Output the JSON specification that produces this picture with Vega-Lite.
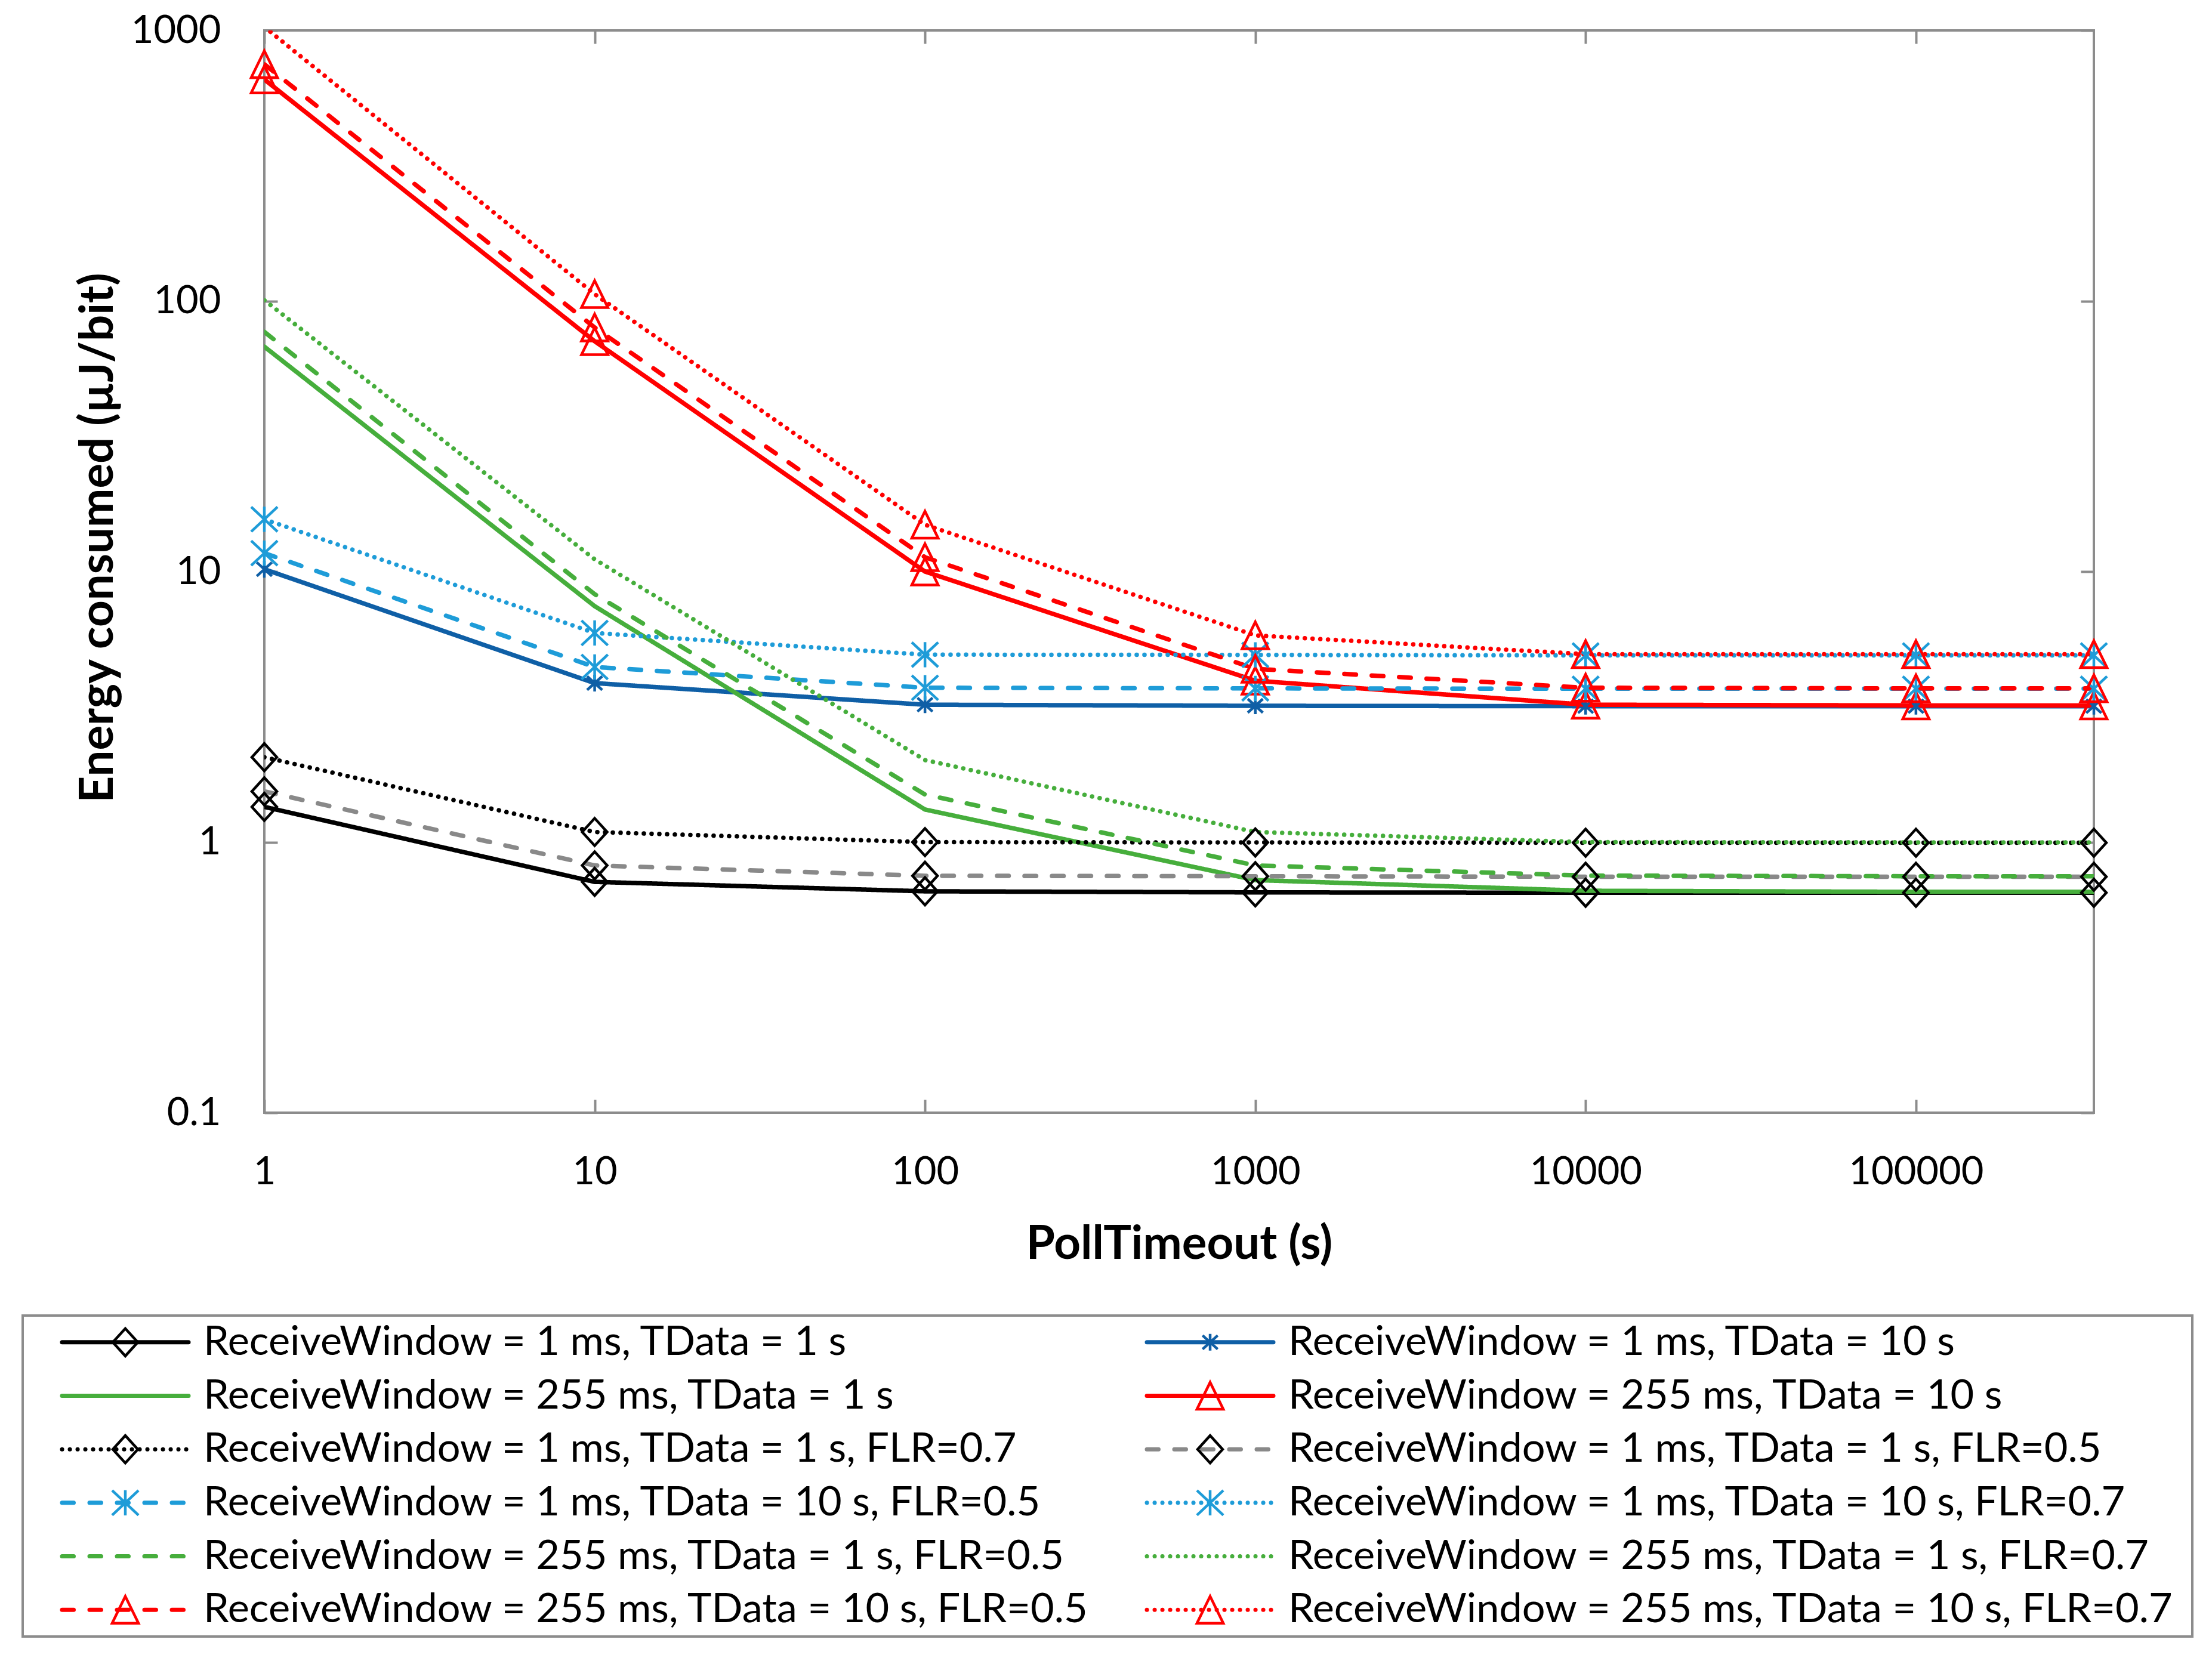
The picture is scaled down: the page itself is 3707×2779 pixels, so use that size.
{
  "$schema": "https://vega.github.io/schema/vega-lite/v6.json",
  "background": "white",
  "padding": {"left": 36, "top": 17, "right": 10, "bottom": 10},
  "config": {
    "font": "Lato",
    "view": {"stroke": "#8c8c8c", "strokeWidth": 4},
    "axis": {
      "grid": false,
      "domain": false,
      "tickColor": "#8c8c8c",
      "tickWidth": 4,
      "tickSize": -22,
      "labelColor": "#000000",
      "labelFont": "Lato",
      "labelFontSize": 65,
      "labelLimit": 0,
      "labelFlush": false,
      "labelOverlap": false,
      "labelBound": false,
      "titleColor": "#000000",
      "titleFont": "Lato",
      "titleFontSize": 78,
      "titleFontWeight": "bold"
    }
  },
  "datasets": {
    "energy": [
      {"series": "ReceiveWindow = 1 ms, TData = 1 s", "timeout": 1, "energy": 1.35},
      {"series": "ReceiveWindow = 1 ms, TData = 1 s", "timeout": 10, "energy": 0.713},
      {"series": "ReceiveWindow = 1 ms, TData = 1 s", "timeout": 100, "energy": 0.658},
      {"series": "ReceiveWindow = 1 ms, TData = 1 s", "timeout": 1000, "energy": 0.652},
      {"series": "ReceiveWindow = 1 ms, TData = 1 s", "timeout": 10000, "energy": 0.65},
      {"series": "ReceiveWindow = 1 ms, TData = 1 s", "timeout": 100000, "energy": 0.65},
      {"series": "ReceiveWindow = 1 ms, TData = 1 s", "timeout": 345600, "energy": 0.65},

      {"series": "ReceiveWindow = 1 ms, TData = 10 s", "timeout": 1, "energy": 10.2},
      {"series": "ReceiveWindow = 1 ms, TData = 10 s", "timeout": 10, "energy": 3.87},
      {"series": "ReceiveWindow = 1 ms, TData = 10 s", "timeout": 100, "energy": 3.22},
      {"series": "ReceiveWindow = 1 ms, TData = 10 s", "timeout": 1000, "energy": 3.19},
      {"series": "ReceiveWindow = 1 ms, TData = 10 s", "timeout": 10000, "energy": 3.18},
      {"series": "ReceiveWindow = 1 ms, TData = 10 s", "timeout": 100000, "energy": 3.18},
      {"series": "ReceiveWindow = 1 ms, TData = 10 s", "timeout": 345600, "energy": 3.18},

      {"series": "ReceiveWindow = 255 ms, TData = 1 s", "timeout": 1, "energy": 67.8},
      {"series": "ReceiveWindow = 255 ms, TData = 1 s", "timeout": 10, "energy": 7.45},
      {"series": "ReceiveWindow = 255 ms, TData = 1 s", "timeout": 100, "energy": 1.32},
      {"series": "ReceiveWindow = 255 ms, TData = 1 s", "timeout": 1000, "energy": 0.724},
      {"series": "ReceiveWindow = 255 ms, TData = 1 s", "timeout": 10000, "energy": 0.661},
      {"series": "ReceiveWindow = 255 ms, TData = 1 s", "timeout": 100000, "energy": 0.655},
      {"series": "ReceiveWindow = 255 ms, TData = 1 s", "timeout": 345600, "energy": 0.655},

      {"series": "ReceiveWindow = 255 ms, TData = 10 s", "timeout": 1, "energy": 659},
      {"series": "ReceiveWindow = 255 ms, TData = 10 s", "timeout": 10, "energy": 71},
      {"series": "ReceiveWindow = 255 ms, TData = 10 s", "timeout": 100, "energy": 10.0},
      {"series": "ReceiveWindow = 255 ms, TData = 10 s", "timeout": 1000, "energy": 3.95},
      {"series": "ReceiveWindow = 255 ms, TData = 10 s", "timeout": 10000, "energy": 3.22},
      {"series": "ReceiveWindow = 255 ms, TData = 10 s", "timeout": 100000, "energy": 3.2},
      {"series": "ReceiveWindow = 255 ms, TData = 10 s", "timeout": 345600, "energy": 3.2},

      {"series": "ReceiveWindow = 1 ms, TData = 1 s, FLR=0.7", "timeout": 1, "energy": 2.06},
      {"series": "ReceiveWindow = 1 ms, TData = 1 s, FLR=0.7", "timeout": 10, "energy": 1.09},
      {"series": "ReceiveWindow = 1 ms, TData = 1 s, FLR=0.7", "timeout": 100, "energy": 1.0},
      {"series": "ReceiveWindow = 1 ms, TData = 1 s, FLR=0.7", "timeout": 1000, "energy": 0.997},
      {"series": "ReceiveWindow = 1 ms, TData = 1 s, FLR=0.7", "timeout": 10000, "energy": 0.995},
      {"series": "ReceiveWindow = 1 ms, TData = 1 s, FLR=0.7", "timeout": 100000, "energy": 0.995},
      {"series": "ReceiveWindow = 1 ms, TData = 1 s, FLR=0.7", "timeout": 345600, "energy": 0.995},

      {"series": "ReceiveWindow = 1 ms, TData = 1 s, FLR=0.5", "timeout": 1, "energy": 1.54},
      {"series": "ReceiveWindow = 1 ms, TData = 1 s, FLR=0.5", "timeout": 10, "energy": 0.82},
      {"series": "ReceiveWindow = 1 ms, TData = 1 s, FLR=0.5", "timeout": 100, "energy": 0.751},
      {"series": "ReceiveWindow = 1 ms, TData = 1 s, FLR=0.5", "timeout": 1000, "energy": 0.748},
      {"series": "ReceiveWindow = 1 ms, TData = 1 s, FLR=0.5", "timeout": 10000, "energy": 0.745},
      {"series": "ReceiveWindow = 1 ms, TData = 1 s, FLR=0.5", "timeout": 100000, "energy": 0.745},
      {"series": "ReceiveWindow = 1 ms, TData = 1 s, FLR=0.5", "timeout": 345600, "energy": 0.745},

      {"series": "ReceiveWindow = 1 ms, TData = 10 s, FLR=0.5", "timeout": 1, "energy": 11.7},
      {"series": "ReceiveWindow = 1 ms, TData = 10 s, FLR=0.5", "timeout": 10, "energy": 4.44},
      {"series": "ReceiveWindow = 1 ms, TData = 10 s, FLR=0.5", "timeout": 100, "energy": 3.72},
      {"series": "ReceiveWindow = 1 ms, TData = 10 s, FLR=0.5", "timeout": 1000, "energy": 3.7},
      {"series": "ReceiveWindow = 1 ms, TData = 10 s, FLR=0.5", "timeout": 10000, "energy": 3.69},
      {"series": "ReceiveWindow = 1 ms, TData = 10 s, FLR=0.5", "timeout": 100000, "energy": 3.69},
      {"series": "ReceiveWindow = 1 ms, TData = 10 s, FLR=0.5", "timeout": 345600, "energy": 3.69},

      {"series": "ReceiveWindow = 1 ms, TData = 10 s, FLR=0.7", "timeout": 1, "energy": 15.6},
      {"series": "ReceiveWindow = 1 ms, TData = 10 s, FLR=0.7", "timeout": 10, "energy": 5.93},
      {"series": "ReceiveWindow = 1 ms, TData = 10 s, FLR=0.7", "timeout": 100, "energy": 4.93},
      {"series": "ReceiveWindow = 1 ms, TData = 10 s, FLR=0.7", "timeout": 1000, "energy": 4.92},
      {"series": "ReceiveWindow = 1 ms, TData = 10 s, FLR=0.7", "timeout": 10000, "energy": 4.9},
      {"series": "ReceiveWindow = 1 ms, TData = 10 s, FLR=0.7", "timeout": 100000, "energy": 4.9},
      {"series": "ReceiveWindow = 1 ms, TData = 10 s, FLR=0.7", "timeout": 345600, "energy": 4.9},

      {"series": "ReceiveWindow = 255 ms, TData = 1 s, FLR=0.5", "timeout": 1, "energy": 76.9},
      {"series": "ReceiveWindow = 255 ms, TData = 1 s, FLR=0.5", "timeout": 10, "energy": 8.25},
      {"series": "ReceiveWindow = 255 ms, TData = 1 s, FLR=0.5", "timeout": 100, "energy": 1.5},
      {"series": "ReceiveWindow = 255 ms, TData = 1 s, FLR=0.5", "timeout": 1000, "energy": 0.82},
      {"series": "ReceiveWindow = 255 ms, TData = 1 s, FLR=0.5", "timeout": 10000, "energy": 0.752},
      {"series": "ReceiveWindow = 255 ms, TData = 1 s, FLR=0.5", "timeout": 100000, "energy": 0.748},
      {"series": "ReceiveWindow = 255 ms, TData = 1 s, FLR=0.5", "timeout": 345600, "energy": 0.748},

      {"series": "ReceiveWindow = 255 ms, TData = 1 s, FLR=0.7", "timeout": 1, "energy": 100.7},
      {"series": "ReceiveWindow = 255 ms, TData = 1 s, FLR=0.7", "timeout": 10, "energy": 11.1},
      {"series": "ReceiveWindow = 255 ms, TData = 1 s, FLR=0.7", "timeout": 100, "energy": 2.01},
      {"series": "ReceiveWindow = 255 ms, TData = 1 s, FLR=0.7", "timeout": 1000, "energy": 1.09},
      {"series": "ReceiveWindow = 255 ms, TData = 1 s, FLR=0.7", "timeout": 10000, "energy": 1.0},
      {"series": "ReceiveWindow = 255 ms, TData = 1 s, FLR=0.7", "timeout": 100000, "energy": 0.998},
      {"series": "ReceiveWindow = 255 ms, TData = 1 s, FLR=0.7", "timeout": 345600, "energy": 0.998},

      {"series": "ReceiveWindow = 255 ms, TData = 10 s, FLR=0.5", "timeout": 1, "energy": 750},
      {"series": "ReceiveWindow = 255 ms, TData = 10 s, FLR=0.5", "timeout": 10, "energy": 79.8},
      {"series": "ReceiveWindow = 255 ms, TData = 10 s, FLR=0.5", "timeout": 100, "energy": 11.3},
      {"series": "ReceiveWindow = 255 ms, TData = 10 s, FLR=0.5", "timeout": 1000, "energy": 4.37},
      {"series": "ReceiveWindow = 255 ms, TData = 10 s, FLR=0.5", "timeout": 10000, "energy": 3.72},
      {"series": "ReceiveWindow = 255 ms, TData = 10 s, FLR=0.5", "timeout": 100000, "energy": 3.7},
      {"series": "ReceiveWindow = 255 ms, TData = 10 s, FLR=0.5", "timeout": 345600, "energy": 3.7},

      {"series": "ReceiveWindow = 255 ms, TData = 10 s, FLR=0.7", "timeout": 1, "energy": 1030},
      {"series": "ReceiveWindow = 255 ms, TData = 10 s, FLR=0.7", "timeout": 10, "energy": 106},
      {"series": "ReceiveWindow = 255 ms, TData = 10 s, FLR=0.7", "timeout": 100, "energy": 14.9},
      {"series": "ReceiveWindow = 255 ms, TData = 10 s, FLR=0.7", "timeout": 1000, "energy": 5.81},
      {"series": "ReceiveWindow = 255 ms, TData = 10 s, FLR=0.7", "timeout": 10000, "energy": 4.95},
      {"series": "ReceiveWindow = 255 ms, TData = 10 s, FLR=0.7", "timeout": 100000, "energy": 4.95},
      {"series": "ReceiveWindow = 255 ms, TData = 10 s, FLR=0.7", "timeout": 345600, "energy": 4.95}
    ],
    "keys": [
      {"series": "ReceiveWindow = 1 ms, TData = 1 s", "col": 0, "row": 0},
      {"series": "ReceiveWindow = 255 ms, TData = 1 s", "col": 0, "row": 1},
      {"series": "ReceiveWindow = 1 ms, TData = 1 s, FLR=0.7", "col": 0, "row": 2},
      {"series": "ReceiveWindow = 1 ms, TData = 10 s, FLR=0.5", "col": 0, "row": 3},
      {"series": "ReceiveWindow = 255 ms, TData = 1 s, FLR=0.5", "col": 0, "row": 4},
      {"series": "ReceiveWindow = 255 ms, TData = 10 s, FLR=0.5", "col": 0, "row": 5},
      {"series": "ReceiveWindow = 1 ms, TData = 10 s", "col": 1, "row": 0},
      {"series": "ReceiveWindow = 255 ms, TData = 10 s", "col": 1, "row": 1},
      {"series": "ReceiveWindow = 1 ms, TData = 1 s, FLR=0.5", "col": 1, "row": 2},
      {"series": "ReceiveWindow = 1 ms, TData = 10 s, FLR=0.7", "col": 1, "row": 3},
      {"series": "ReceiveWindow = 255 ms, TData = 1 s, FLR=0.7", "col": 1, "row": 4},
      {"series": "ReceiveWindow = 255 ms, TData = 10 s, FLR=0.7", "col": 1, "row": 5}
    ]
  },
  "spacing": 76,
  "vconcat": [
    {
      "width": 3066,
      "height": 1814,
      "data": {"name": "energy"},
      "layer": [
        {
          "mark": {"type": "line", "strokeWidth": 7.5, "strokeCap": "round", "strokeJoin": "round", "clip": true},
          "encoding": {
            "x": {
              "field": "timeout",
              "type": "quantitative",
              "scale": {"type": "log", "domain": [1, 345600]},
              "axis": {
                "orient": "bottom",
                "values": [1, 10, 100, 1000, 10000, 100000],
                "format": "d",
                "labelPadding": 90,
                "title": "PollTimeout (s)",
                "titleY": 182,
                "titleBaseline": "top"
              }
            },
            "y": {
              "field": "energy",
              "type": "quantitative",
              "scale": {"type": "log", "domain": [0.1, 1000]},
              "axis": {
                "orient": "left",
                "values": [0.1, 1, 10, 100, 1000],
                "format": "~g",
                "labelPadding": 95,
                "title": "Energy consumed (µJ/bit)",
                "titleX": -239,
                "titleY": 850
              }
            },
            "color": {
              "field": "series",
              "type": "nominal",
              "legend": null,
              "scale": {
                "domain": [
                  "ReceiveWindow = 1 ms, TData = 1 s",
                  "ReceiveWindow = 1 ms, TData = 10 s",
                  "ReceiveWindow = 255 ms, TData = 1 s",
                  "ReceiveWindow = 255 ms, TData = 10 s",
                  "ReceiveWindow = 1 ms, TData = 1 s, FLR=0.7",
                  "ReceiveWindow = 1 ms, TData = 1 s, FLR=0.5",
                  "ReceiveWindow = 1 ms, TData = 10 s, FLR=0.5",
                  "ReceiveWindow = 1 ms, TData = 10 s, FLR=0.7",
                  "ReceiveWindow = 255 ms, TData = 1 s, FLR=0.5",
                  "ReceiveWindow = 255 ms, TData = 1 s, FLR=0.7",
                  "ReceiveWindow = 255 ms, TData = 10 s, FLR=0.5",
                  "ReceiveWindow = 255 ms, TData = 10 s, FLR=0.7"
                ],
                "range": ["#000000", "#0f5fa6", "#46ae3c", "#ff0000", "#000000", "#898989", "#1e9cd8", "#1e9cd8", "#46ae3c", "#46ae3c", "#ff0000", "#ff0000"]
              }
            },
            "strokeDash": {
              "field": "series",
              "type": "nominal",
              "legend": null,
              "scale": {
                "domain": [
                  "ReceiveWindow = 1 ms, TData = 1 s",
                  "ReceiveWindow = 1 ms, TData = 10 s",
                  "ReceiveWindow = 255 ms, TData = 1 s",
                  "ReceiveWindow = 255 ms, TData = 10 s",
                  "ReceiveWindow = 1 ms, TData = 1 s, FLR=0.7",
                  "ReceiveWindow = 1 ms, TData = 1 s, FLR=0.5",
                  "ReceiveWindow = 1 ms, TData = 10 s, FLR=0.5",
                  "ReceiveWindow = 1 ms, TData = 10 s, FLR=0.7",
                  "ReceiveWindow = 255 ms, TData = 1 s, FLR=0.5",
                  "ReceiveWindow = 255 ms, TData = 1 s, FLR=0.7",
                  "ReceiveWindow = 255 ms, TData = 10 s, FLR=0.5",
                  "ReceiveWindow = 255 ms, TData = 10 s, FLR=0.7"
                ],
                "range": [[1, 0], [1, 0], [1, 0], [1, 0], [0.1, 12.9], [19.5, 26.5], [19.5, 26.5], [0.1, 12.9], [19.5, 26.5], [0.1, 12.9], [19.5, 26.5], [0.1, 12.9]]
              }
            }
          }
        },
        {
          "transform": [
            {"filter": {"field": "series", "oneOf": [
              "ReceiveWindow = 1 ms, TData = 1 s",
              "ReceiveWindow = 1 ms, TData = 10 s",
              "ReceiveWindow = 255 ms, TData = 10 s",
              "ReceiveWindow = 1 ms, TData = 1 s, FLR=0.7",
              "ReceiveWindow = 1 ms, TData = 1 s, FLR=0.5",
              "ReceiveWindow = 1 ms, TData = 10 s, FLR=0.5",
              "ReceiveWindow = 1 ms, TData = 10 s, FLR=0.7",
              "ReceiveWindow = 255 ms, TData = 10 s, FLR=0.5",
              "ReceiveWindow = 255 ms, TData = 10 s, FLR=0.7"
            ]}},
            {"filter": "datum.energy <= 1000"}
          ],
          "mark": {"type": "point", "filled": false, "opacity": 1, "strokeWidth": 4.5, "size": 2116},
          "encoding": {
            "x": {
              "field": "timeout",
              "type": "quantitative",
              "scale": {"type": "log", "domain": [1, 345600]},
              "axis": {"orient": "top", "values": [1, 10, 100, 1000, 10000, 100000], "labels": false, "title": null}
            },
            "y": {
              "field": "energy",
              "type": "quantitative",
              "scale": {"type": "log", "domain": [0.1, 1000]},
              "axis": {"orient": "right", "values": [0.1, 1, 10, 100, 1000], "labels": false, "title": null}
            },
            "stroke": {
              "field": "series",
              "type": "nominal",
              "legend": null,
              "scale": {
                "domain": [
                  "ReceiveWindow = 1 ms, TData = 1 s",
                  "ReceiveWindow = 1 ms, TData = 10 s",
                  "ReceiveWindow = 255 ms, TData = 10 s",
                  "ReceiveWindow = 1 ms, TData = 1 s, FLR=0.7",
                  "ReceiveWindow = 1 ms, TData = 1 s, FLR=0.5",
                  "ReceiveWindow = 1 ms, TData = 10 s, FLR=0.5",
                  "ReceiveWindow = 1 ms, TData = 10 s, FLR=0.7",
                  "ReceiveWindow = 255 ms, TData = 10 s, FLR=0.5",
                  "ReceiveWindow = 255 ms, TData = 10 s, FLR=0.7"
                ],
                "range": ["#000000", "#0f5fa6", "#ff0000", "#000000", "#000000", "#1e9cd8", "#1e9cd8", "#ff0000", "#ff0000"]
              }
            },
            "shape": {
              "field": "series",
              "type": "nominal",
              "legend": null,
              "scale": {
                "domain": [
                  "ReceiveWindow = 1 ms, TData = 1 s",
                  "ReceiveWindow = 1 ms, TData = 10 s",
                  "ReceiveWindow = 255 ms, TData = 10 s",
                  "ReceiveWindow = 1 ms, TData = 1 s, FLR=0.7",
                  "ReceiveWindow = 1 ms, TData = 1 s, FLR=0.5",
                  "ReceiveWindow = 1 ms, TData = 10 s, FLR=0.5",
                  "ReceiveWindow = 1 ms, TData = 10 s, FLR=0.7",
                  "ReceiveWindow = 255 ms, TData = 10 s, FLR=0.5",
                  "ReceiveWindow = 255 ms, TData = 10 s, FLR=0.7"
                ],
                "range": [
                  "M-0.91,0L0,-1L0.91,0L0,1Z",
                  "M-0.55,-0.5L0.55,0.5M-0.55,0.5L0.55,-0.5M0,-0.61L0,0.61",
                  "M0,-0.98L0.96,0.98L-0.96,0.98Z",
                  "M-0.91,0L0,-1L0.91,0L0,1Z",
                  "M-0.91,0L0,-1L0.91,0L0,1Z",
                  "M-0.96,-0.9L0.96,0.9M-0.96,0.9L0.96,-0.9M0,-0.92L0,0.92",
                  "M-0.96,-0.9L0.96,0.9M-0.96,0.9L0.96,-0.9M0,-0.92L0,0.92",
                  "M0,-0.98L0.96,0.98L-0.96,0.98Z",
                  "M0,-0.98L0.96,0.98L-0.96,0.98Z"
                ]
              }
            }
          }
        }
      ],
      "resolve": {"axis": {"x": "independent", "y": "independent"}}
    },
    {
      "width": 3231,
      "height": 538,
      "view": {"stroke": null},
      "layer": [
        {
          "data": {"values": [{}]},
          "mark": {"type": "rect", "fill": "transparent", "stroke": "#8c8c8c", "strokeWidth": 4},
          "encoding": {
            "x": {"datum": 0, "type": "quantitative", "scale": {"domain": [0, 2], "range": [-405, 3231], "nice": false, "zero": false}, "axis": null},
            "x2": {"datum": 2}
          }
        },
        {
          "data": {"name": "keys"},
          "mark": {"type": "rule", "strokeWidth": 7, "strokeCap": "round", "xOffset": 66, "x2Offset": 278},
          "encoding": {
            "x": {"field": "col", "type": "quantitative", "axis": null},
            "x2": {"field": "col"},
            "y": {"field": "row", "type": "ordinal", "scale": {"type": "point", "padding": 0.5}, "axis": null},
            "color": {
              "field": "series",
              "type": "nominal",
              "legend": null,
              "scale": {
                "domain": [
                  "ReceiveWindow = 1 ms, TData = 1 s",
                  "ReceiveWindow = 1 ms, TData = 10 s",
                  "ReceiveWindow = 255 ms, TData = 1 s",
                  "ReceiveWindow = 255 ms, TData = 10 s",
                  "ReceiveWindow = 1 ms, TData = 1 s, FLR=0.7",
                  "ReceiveWindow = 1 ms, TData = 1 s, FLR=0.5",
                  "ReceiveWindow = 1 ms, TData = 10 s, FLR=0.5",
                  "ReceiveWindow = 1 ms, TData = 10 s, FLR=0.7",
                  "ReceiveWindow = 255 ms, TData = 1 s, FLR=0.5",
                  "ReceiveWindow = 255 ms, TData = 1 s, FLR=0.7",
                  "ReceiveWindow = 255 ms, TData = 10 s, FLR=0.5",
                  "ReceiveWindow = 255 ms, TData = 10 s, FLR=0.7"
                ],
                "range": ["#000000", "#0f5fa6", "#46ae3c", "#ff0000", "#000000", "#898989", "#1e9cd8", "#1e9cd8", "#46ae3c", "#46ae3c", "#ff0000", "#ff0000"]
              }
            },
            "strokeDash": {
              "field": "series",
              "type": "nominal",
              "legend": null,
              "scale": {
                "domain": [
                  "ReceiveWindow = 1 ms, TData = 1 s",
                  "ReceiveWindow = 1 ms, TData = 10 s",
                  "ReceiveWindow = 255 ms, TData = 1 s",
                  "ReceiveWindow = 255 ms, TData = 10 s",
                  "ReceiveWindow = 1 ms, TData = 1 s, FLR=0.7",
                  "ReceiveWindow = 1 ms, TData = 1 s, FLR=0.5",
                  "ReceiveWindow = 1 ms, TData = 10 s, FLR=0.5",
                  "ReceiveWindow = 1 ms, TData = 10 s, FLR=0.7",
                  "ReceiveWindow = 255 ms, TData = 1 s, FLR=0.5",
                  "ReceiveWindow = 255 ms, TData = 1 s, FLR=0.7",
                  "ReceiveWindow = 255 ms, TData = 10 s, FLR=0.5",
                  "ReceiveWindow = 255 ms, TData = 10 s, FLR=0.7"
                ],
                "range": [[1, 0], [1, 0], [1, 0], [1, 0], [0.1, 12.9], [19.5, 26.5], [19.5, 26.5], [0.1, 12.9], [19.5, 26.5], [0.1, 12.9], [19.5, 26.5], [0.1, 12.9]]
              }
            }
          }
        },
        {
          "data": {"name": "keys"},
          "transform": [
            {"filter": {"field": "series", "oneOf": [
              "ReceiveWindow = 1 ms, TData = 1 s",
              "ReceiveWindow = 1 ms, TData = 10 s",
              "ReceiveWindow = 255 ms, TData = 10 s",
              "ReceiveWindow = 1 ms, TData = 1 s, FLR=0.7",
              "ReceiveWindow = 1 ms, TData = 1 s, FLR=0.5",
              "ReceiveWindow = 1 ms, TData = 10 s, FLR=0.5",
              "ReceiveWindow = 1 ms, TData = 10 s, FLR=0.7",
              "ReceiveWindow = 255 ms, TData = 10 s, FLR=0.5",
              "ReceiveWindow = 255 ms, TData = 10 s, FLR=0.7"
            ]}}
          ],
          "mark": {"type": "point", "filled": false, "opacity": 1, "strokeWidth": 4.5, "size": 2116, "xOffset": 172},
          "encoding": {
            "x": {"field": "col", "type": "quantitative", "axis": null},
            "y": {"field": "row", "type": "ordinal", "axis": null},
            "stroke": {
              "field": "series",
              "type": "nominal",
              "legend": null,
              "scale": {
                "domain": [
                  "ReceiveWindow = 1 ms, TData = 1 s",
                  "ReceiveWindow = 1 ms, TData = 10 s",
                  "ReceiveWindow = 255 ms, TData = 10 s",
                  "ReceiveWindow = 1 ms, TData = 1 s, FLR=0.7",
                  "ReceiveWindow = 1 ms, TData = 1 s, FLR=0.5",
                  "ReceiveWindow = 1 ms, TData = 10 s, FLR=0.5",
                  "ReceiveWindow = 1 ms, TData = 10 s, FLR=0.7",
                  "ReceiveWindow = 255 ms, TData = 10 s, FLR=0.5",
                  "ReceiveWindow = 255 ms, TData = 10 s, FLR=0.7"
                ],
                "range": ["#000000", "#0f5fa6", "#ff0000", "#000000", "#000000", "#1e9cd8", "#1e9cd8", "#ff0000", "#ff0000"]
              }
            },
            "shape": {
              "field": "series",
              "type": "nominal",
              "legend": null,
              "scale": {
                "domain": [
                  "ReceiveWindow = 1 ms, TData = 1 s",
                  "ReceiveWindow = 1 ms, TData = 10 s",
                  "ReceiveWindow = 255 ms, TData = 10 s",
                  "ReceiveWindow = 1 ms, TData = 1 s, FLR=0.7",
                  "ReceiveWindow = 1 ms, TData = 1 s, FLR=0.5",
                  "ReceiveWindow = 1 ms, TData = 10 s, FLR=0.5",
                  "ReceiveWindow = 1 ms, TData = 10 s, FLR=0.7",
                  "ReceiveWindow = 255 ms, TData = 10 s, FLR=0.5",
                  "ReceiveWindow = 255 ms, TData = 10 s, FLR=0.7"
                ],
                "range": [
                  "M-0.91,0L0,-1L0.91,0L0,1Z",
                  "M-0.55,-0.5L0.55,0.5M-0.55,0.5L0.55,-0.5M0,-0.61L0,0.61",
                  "M0,-0.98L0.96,0.98L-0.96,0.98Z",
                  "M-0.91,0L0,-1L0.91,0L0,1Z",
                  "M-0.91,0L0,-1L0.91,0L0,1Z",
                  "M-0.96,-0.9L0.96,0.9M-0.96,0.9L0.96,-0.9M0,-0.92L0,0.92",
                  "M-0.96,-0.9L0.96,0.9M-0.96,0.9L0.96,-0.9M0,-0.92L0,0.92",
                  "M0,-0.98L0.96,0.98L-0.96,0.98Z",
                  "M0,-0.98L0.96,0.98L-0.96,0.98Z"
                ]
              }
            }
          }
        },
        {
          "data": {"name": "keys"},
          "mark": {"type": "text", "align": "left", "baseline": "middle", "dx": 303, "font": "Lato", "fontSize": 68.5, "color": "#000000"},
          "encoding": {
            "x": {"field": "col", "type": "quantitative", "axis": null},
            "y": {"field": "row", "type": "ordinal", "axis": null},
            "text": {"field": "series", "type": "nominal"}
          }
        }
      ]
    }
  ]
}
